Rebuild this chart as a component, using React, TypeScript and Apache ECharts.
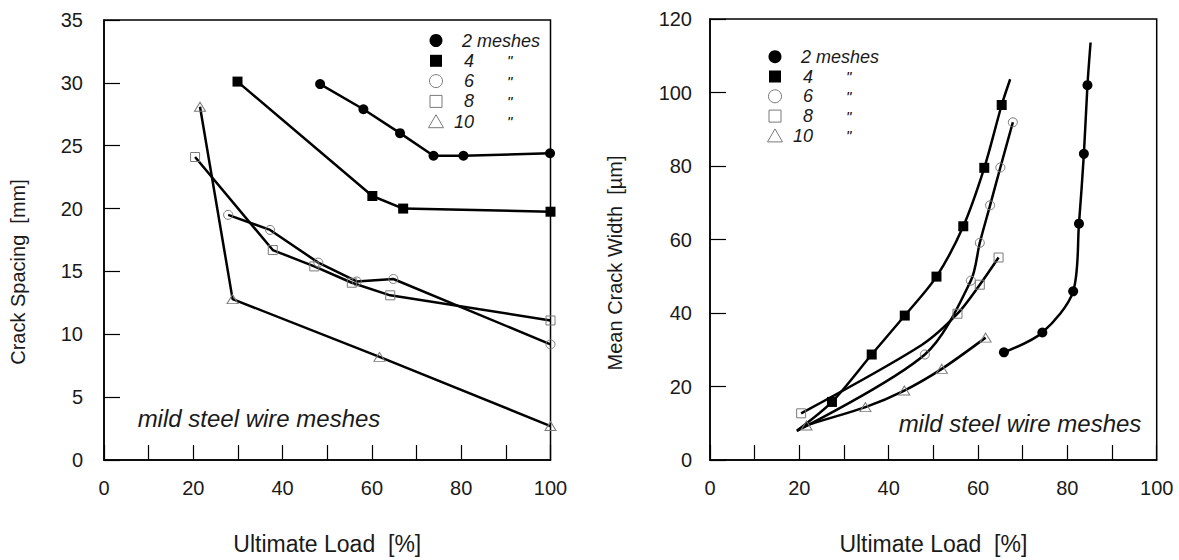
import React, { useEffect, useRef } from 'react';
import * as echarts from 'echarts';

// ---------- data ----------
const xLabelStep = 20;
const seriesNames = ['2 meshes', '4', '6', '8', '10'];
const dittoMark = '"';
const annotation = 'mild steel wire meshes';

// Left panel: crack spacing [mm] vs ultimate load [%]
const spacing2 = [[48.4, 29.9], [58.1, 27.9], [66.3, 26.0], [73.8, 24.2], [80.5, 24.2], [99.9, 24.4]];
const spacing4 = [[29.9, 30.1], [60.1, 21.0], [67.0, 20.0], [100, 19.75]];
const spacing6 = [[27.8, 19.5], [37.2, 18.3], [48.0, 15.7], [56.6, 14.2], [64.8, 14.4], [100, 9.2]];
const spacing8 = [[20.4, 24.1], [37.8, 16.7], [47.1, 15.4], [55.5, 14.1], [64.1, 13.1], [100, 11.1]];
const spacing10 = [[21.5, 28.1], [28.8, 12.8], [61.7, 8.2], [100, 2.7]];

// Right panel: mean crack width [µm] vs ultimate load [%]
const width2 = [[65.8, 29.3], [74.4, 34.7], [81.3, 45.9], [82.6, 64.3], [83.7, 83.3], [84.5, 102.0]];
const width2CurveEnd = [85.2, 113.6];
const width4CurveStart = [19.6, 8.1];
const width4 = [[27.3, 15.8], [36.2, 28.7], [43.6, 39.3], [50.7, 49.9], [56.7, 63.6], [61.4, 79.5], [65.3, 96.6]];
const width4CurveEnd = [67.2, 103.6];
const width6CurveStart = [19.4, 7.9];
const width6 = [[48.1, 28.7], [58.4, 48.8], [60.4, 59.1], [62.7, 69.3], [65.0, 79.6], [67.8, 91.9]];
const width8 = [[20.4, 12.7], [55.4, 39.8], [60.4, 47.7], [64.6, 55.1]];
const width8Bend = [47.4, 31.3];
const width10CurveStart = [19.5, 8.0];
const width10 = [[21.6, 9.4], [34.8, 14.4], [43.5, 18.9], [51.9, 24.8], [61.7, 33.3]];

// ---------- styling helpers ----------
const FONT = 'Liberation Sans, Arial, sans-serif';
const TXT = '#1a1a1a';
const OPEN = '#7a7a7a';

const markerStyles = [
  { symbol: 'circle', symbolSize: 10, itemStyle: { color: '#000' } },
  { symbol: 'rect', symbolSize: 10, itemStyle: { color: '#000' } },
  { symbol: 'circle', symbolSize: 9, itemStyle: { color: 'rgba(0,0,0,0)', borderColor: OPEN, borderWidth: 1 } },
  { symbol: 'rect', symbolSize: 9, itemStyle: { color: 'rgba(0,0,0,0)', borderColor: OPEN, borderWidth: 1 } },
  { symbol: 'triangle', symbolSize: [11, 9], itemStyle: { color: 'rgba(0,0,0,0)', borderColor: OPEN, borderWidth: 1 } },
];

const marked = (arr: number[][]) => arr.map((p) => ({ value: p }));
const bare = (p: number[]) => ({ value: p, symbol: 'none' });

function makeSeries(idx: number, data: any[], grid: number, smooth: boolean) {
  return {
    type: 'line',
    name: seriesNames[idx],
    xAxisIndex: grid,
    yAxisIndex: grid,
    data,
    smooth: smooth ? 0.3 : false,
    ...markerStyles[idx],
    lineStyle: { color: '#000', width: 2.5 },
    emphasis: { disabled: true },
    z: 3,
  };
}

function legendGraphics(mx: number, y0: number, gap: number) {
  const els: any[] = [];
  seriesNames.forEach((name, i) => {
    const cy = y0 + i * gap;
    if (i === 0) els.push({ type: 'circle', shape: { cx: mx, cy, r: 6.5 }, style: { fill: '#000' } });
    if (i === 1) els.push({ type: 'rect', shape: { x: mx - 6, y: cy - 6, width: 12, height: 12 }, style: { fill: '#000' } });
    if (i === 2) els.push({ type: 'circle', shape: { cx: mx, cy, r: 6.5 }, style: { fill: 'none', stroke: OPEN, lineWidth: 1 } });
    if (i === 3) els.push({ type: 'rect', shape: { x: mx - 6, y: cy - 6, width: 12, height: 12 }, style: { fill: 'none', stroke: OPEN, lineWidth: 1 } });
    if (i === 4) els.push({ type: 'polygon', shape: { points: [[mx, cy - 7], [mx - 7.5, cy + 6], [mx + 7.5, cy + 6]] }, style: { fill: 'none', stroke: OPEN, lineWidth: 1 } });
    const base = { fill: TXT, font: `italic 18px ${FONT}`, verticalAlign: 'middle' };
    if (i === 0) {
      els.push({ type: 'text', x: mx + 26, y: cy, style: { ...base, text: name, align: 'left' } });
    } else {
      els.push({ type: 'text', x: mx + 38, y: cy, style: { ...base, text: name, align: 'right' } });
      els.push({ type: 'text', x: mx + 71, y: cy, style: { ...base, text: dittoMark, align: 'left', fill: '#000', font: `italic 15px ${FONT}` } });
    }
  });
  return els;
}

function xAxisCfg(grid: number) {
  return {
    type: 'value', gridIndex: grid, min: 0, max: 100, interval: 10,
    axisLine: { show: true, onZero: false, lineStyle: { color: '#000', width: 1.5 } },
    axisTick: { show: true, inside: true, length: 15, lineStyle: { color: '#000', width: 1.2 } },
    axisLabel: {
      formatter: (v: number) => (v % xLabelStep === 0 ? String(v) : ''),
      fontSize: 20, color: TXT, margin: 18, fontFamily: FONT,
    },
    splitLine: { show: false },
    name: 'Ultimate Load  [%]', nameLocation: 'middle', nameGap: 72,
    nameTextStyle: { fontSize: 23, color: TXT, fontFamily: FONT },
  };
}

function yAxisCfg(grid: number, max: number, interval: number, margin: number) {
  return {
    type: 'value', gridIndex: grid, min: 0, max, interval,
    axisLine: { show: true, onZero: false, lineStyle: { color: '#000', width: 1.5 } },
    axisTick: { show: true, inside: true, length: 16, lineStyle: { color: '#000', width: 1.2 } },
    axisLabel: { fontSize: 20, color: TXT, margin, fontFamily: FONT },
    splitLine: { show: false },
  };
}

export default function App() {
  const ref = useRef<HTMLDivElement>(null);
  useEffect(() => {
    if (!ref.current) return;
    const chart = echarts.init(ref.current, undefined, { renderer: 'svg' });
    const option: any = {
      animation: false,
      backgroundColor: '#fff',
      grid: [
        { left: 104, top: 20, width: 446.5, height: 444, show: true, borderColor: '#000', borderWidth: 1.5, backgroundColor: 'transparent' },
        { left: 710, top: 19, width: 446.7, height: 445.3, show: true, borderColor: '#000', borderWidth: 1.5, backgroundColor: 'transparent' },
      ],
      xAxis: [xAxisCfg(0), xAxisCfg(1)],
      yAxis: [yAxisCfg(0, 35, 5, 21), yAxisCfg(1, 120, 20, 18)],
      series: [
        makeSeries(0, marked(spacing2), 0, false),
        makeSeries(1, marked(spacing4), 0, false),
        makeSeries(2, marked(spacing6), 0, false),
        makeSeries(3, marked(spacing8), 0, false),
        makeSeries(4, marked(spacing10), 0, false),
        makeSeries(0, [...marked(width2), bare(width2CurveEnd)], 1, true),
        makeSeries(1, [bare(width4CurveStart), ...marked(width4), bare(width4CurveEnd)], 1, true),
        makeSeries(2, [bare(width6CurveStart), ...marked(width6)], 1, true),
        makeSeries(3, [marked(width8)[0], bare(width8Bend), ...marked(width8.slice(1))], 1, true),
        makeSeries(4, [bare(width10CurveStart), ...marked(width10)], 1, true),
      ],
      graphic: [
        { type: 'text', x: 18, y: 272, rotation: Math.PI / 2, style: { text: 'Crack Spacing  [mm]', font: `20px ${FONT}`, fill: TXT, align: 'center', verticalAlign: 'middle' } },
        { type: 'text', x: 615, y: 263, rotation: Math.PI / 2, style: { text: 'Mean Crack Width  [µm]', font: `20px ${FONT}`, fill: TXT, align: 'center', verticalAlign: 'middle' } },
        { type: 'text', x: 259, y: 418, style: { text: annotation, font: `italic 24px ${FONT}`, fill: TXT, align: 'center', verticalAlign: 'middle' } },
        { type: 'text', x: 1020, y: 423, style: { text: annotation, font: `italic 24px ${FONT}`, fill: TXT, align: 'center', verticalAlign: 'middle' } },
        ...legendGraphics(436, 40.5, 20.3),
        ...legendGraphics(775, 56.7, 19.8),
      ],
    };
    chart.setOption(option);
    return () => chart.dispose();
  }, []);
  return <div ref={ref} style={{ position: 'absolute', left: 0, top: 0, width: 1179, height: 560 }} />;
}
